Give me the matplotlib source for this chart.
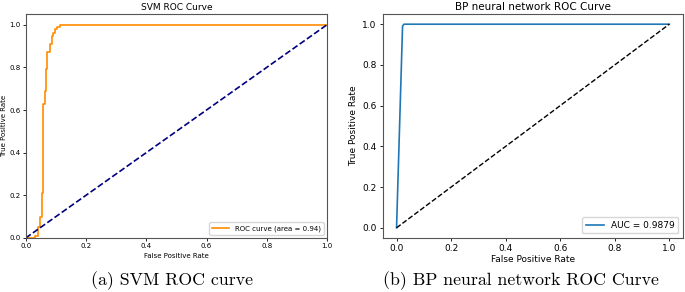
import numpy as np
import matplotlib
matplotlib.use("Agg")
import matplotlib.pyplot as plt

# SVM ROC curve (step points)
svm_fpr = [0.0, 0.031, 0.031, 0.042, 0.042, 0.048, 0.048, 0.053, 0.053, 0.058, 0.058,
           0.064, 0.064, 0.067, 0.067, 0.072, 0.072, 0.081, 0.081, 0.086, 0.086,
           0.092, 0.092, 0.097, 0.097, 0.105, 0.105, 0.114, 0.114, 1.0]
svm_tpr = [0.0, 0.0, 0.01, 0.01, 0.05, 0.05, 0.10, 0.10, 0.21, 0.21, 0.63,
           0.63, 0.69, 0.69, 0.79, 0.79, 0.87, 0.87, 0.91, 0.91, 0.945,
           0.945, 0.96, 0.96, 0.98, 0.98, 0.99, 0.99, 1.0, 1.0]
svm_auc = 0.94

# BP neural network ROC curve
bp_fpr = [0.0, 0.022, 0.027, 1.0]
bp_tpr = [0.0, 0.99, 1.0, 1.0]
bp_auc = 0.9879

diag = [0.0, 1.0]

fig = plt.figure(figsize=(6.85, 2.92), dpi=100)

# left panel
ax1 = fig.add_axes([0.0375, 0.185, 0.44, 0.767])
ax1.plot(svm_fpr, svm_tpr, color='darkorange', lw=1.2,
         label='ROC curve (area = %0.2f)' % svm_auc)
ax1.plot(diag, diag, color='navy', lw=1.2, linestyle='--')
ax1.set_xlim(0.0, 1.0)
ax1.set_ylim(0.0, 1.05)
ax1.set_xlabel('False Positive Rate', fontsize=5, labelpad=3)
ax1.set_ylabel('True Positive Rate', fontsize=5, labelpad=2)
ax1.set_title('SVM ROC Curve', fontsize=6.5, pad=3)
ax1.tick_params(labelsize=5, length=2, pad=1.5, width=0.6)
for s in ax1.spines.values():
    s.set_color('#555555')
ax1.legend(loc='lower right', fontsize=5, handlelength=2.5)

# right panel
ax2 = fig.add_axes([0.559, 0.185, 0.438, 0.767])
ax2.plot(bp_fpr, bp_tpr, color='#1f77b4', lw=1.2, label='AUC = %0.4f' % bp_auc)
ax2.plot(diag, diag, 'k--', lw=1.0)
ax2.set_xlabel('False Positive Rate', fontsize=6.5, labelpad=1)
ax2.set_ylabel('True Positive Rate', fontsize=6.5, labelpad=3)
ax2.set_title('BP neural network ROC Curve', fontsize=7.5, pad=3)
ax2.tick_params(labelsize=6.5, length=2.5, pad=2, width=0.6)
for s in ax2.spines.values():
    s.set_color('#555555')
ax2.legend(loc='lower right', fontsize=6.5)

# captions
fig.text(0.251, 0.022, '(a) SVM ROC curve', fontsize=12.8, family='cmr10', ha='center')
fig.text(0.76, 0.022, '(b) BP neural network ROC Curve', fontsize=12.8, family='cmr10', ha='center')

fig.savefig('out.png', dpi=100)
